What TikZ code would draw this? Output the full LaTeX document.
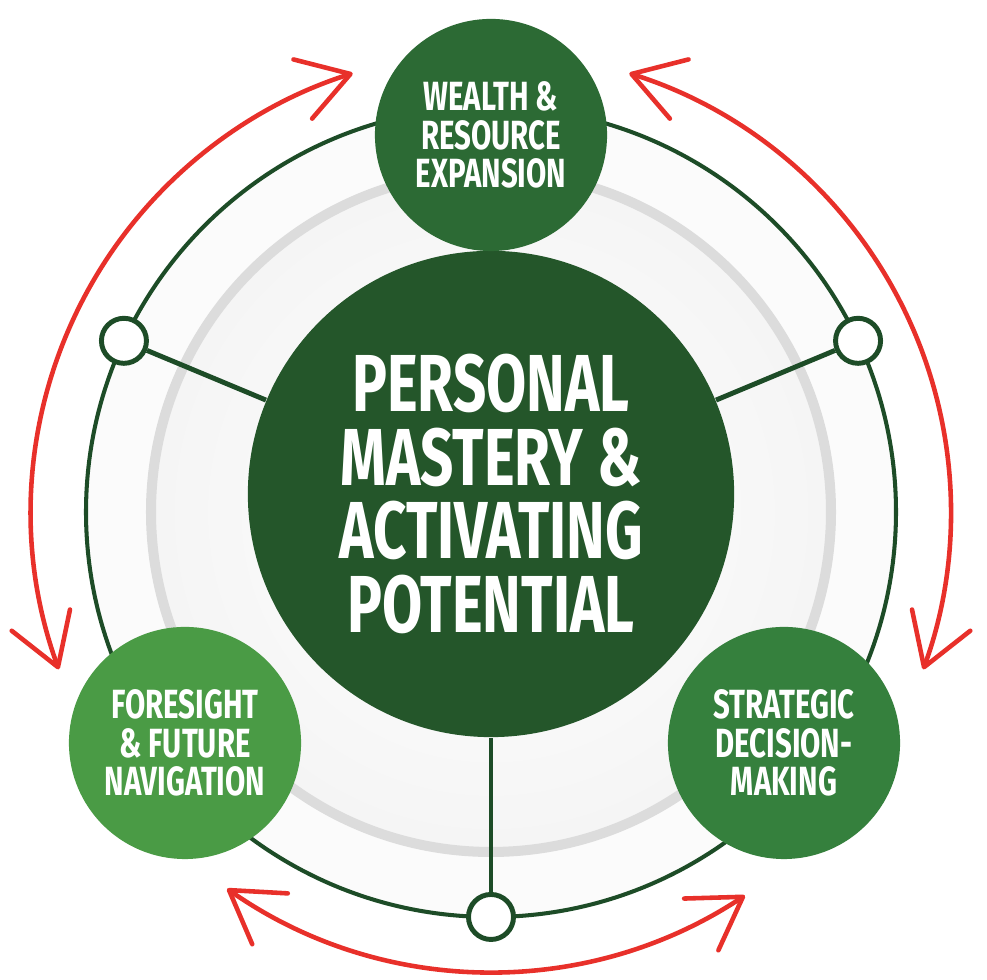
\documentclass[tikz,border=0pt]{standalone}
\usepackage{fontspec}
\newfontfamily\condfont[FakeStretch=0.72]{Fira Sans}
\usetikzlibrary{math,arrows.meta}

\definecolor{ringgreen}{HTML}{1D4C27}
\definecolor{coregreen}{HTML}{24562A}
\definecolor{topgreen}{HTML}{2C6A34}
\definecolor{leftgreen}{HTML}{4A9B45}
\definecolor{rightgreen}{HTML}{35803D}
\definecolor{cyclered}{HTML}{E8302A}
\definecolor{halogray}{HTML}{DCDCDC}

\tikzset{
  core/.style={circle, inner sep=0pt, text=white, align=center, fill=coregreen,
    minimum size=4.86cm, font=\condfont\bfseries\fontsize{23}{21}\selectfont},
  petal/.style={circle, inner sep=0pt, text=white, align=center, minimum size=2.32cm,
    font=\condfont\bfseries\fontsize{11.6}{10.9}\selectfont},
  knot/.style={circle, draw=ringgreen, fill=white, line width=1.4pt, minimum size=0.45cm, inner sep=0pt},
  spoke/.style={draw=ringgreen, line width=1.4pt},
  cyclearrow/.style={draw=cyclered, line width=1.3pt, line cap=round,
    {Straight Barb[length=5mm, width=6.2mm, round]}-{Straight Barb[length=5mm, width=6.2mm, round]}}
}

\begin{document}
\begin{tikzpicture}[x=0.01cm, y=0.01cm]
  \tikzmath{\R = 405; \G = 340; \A = 460;}
  \fill[white] (0, 0) rectangle (987, 980);
  \useasboundingbox (0, 0) rectangle (987, 980);
  \coordinate (mid) at (491, 468);

  % rings
  \fill[gray!3] (mid) circle[radius=\R];
  \shade[inner color=white, outer color=gray!8] (mid) circle[radius=\G];
  \draw[halogray, line width=2.85pt] (mid) circle[radius=\G];
  \draw[ringgreen, line width=1.15pt] (mid) circle[radius=\R];

  \node[core] (mastery) at (491, 486) {PERSONAL\\MASTERY \&\\ACTIVATING\\POTENTIAL};
  \node[petal, fill=topgreen] (wealth) at (491, 845) {WEALTH \&\\RESOURCE\\EXPANSION};
  \node[petal, fill=leftgreen] (foresight) at (185, 237) {FORESIGHT\\\& FUTURE\\NAVIGATION};
  \node[petal, fill=rightgreen] (strategy) at (784, 237) {STRATEGIC\\DECISION-\\MAKING};

  \node[knot] (knotL) at ([shift={(155:\R)}]mid) {};
  \node[knot] (knotR) at ([shift={(25:\R)}]mid) {};
  \node[knot] (knotB) at ([shift={(270:\R)}]mid) {};
  \draw[spoke] (knotL) -- (mastery);
  \draw[spoke] (knotR) -- (mastery);
  \draw[spoke] (knotB) -- (mastery);

  % cycle arrows
  \draw[cyclearrow] ([shift={(200:\A)}]mid) arc[start angle=200, end angle=107.5, radius=\A];
  \draw[cyclearrow] ([shift={(72.5:\A)}]mid) arc[start angle=72.5, end angle=-20, radius=\A];
  \draw[cyclearrow] ([shift={(235:\A)}]mid) arc[start angle=235, end angle=303.5, radius=\A];
\end{tikzpicture}
\end{document}
